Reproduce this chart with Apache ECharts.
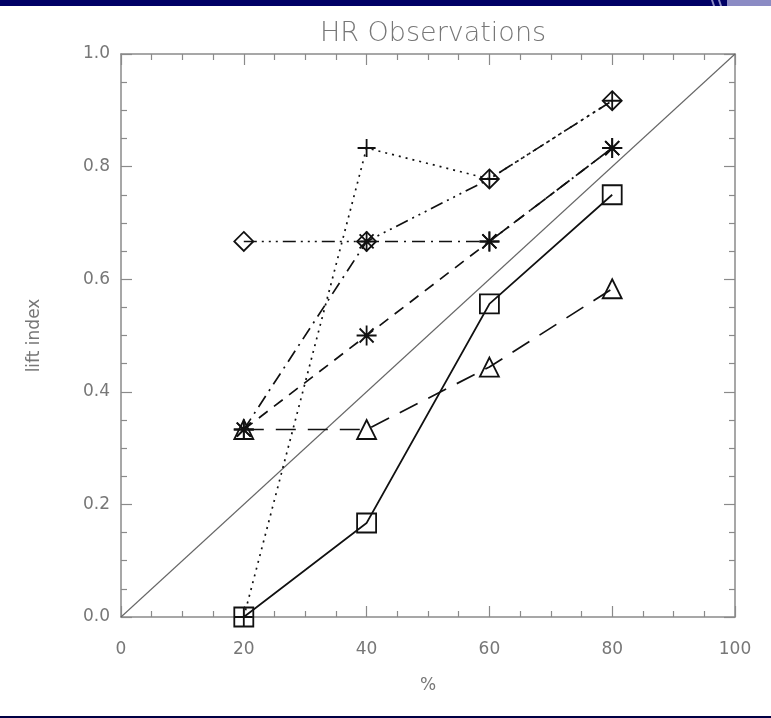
<!DOCTYPE html>
<html>
<head>
<meta charset="utf-8">
<style>
  html, body { margin: 0; padding: 0; background: #fff; }
  #chart { width: 771px; height: 718px; }
</style>
<script src="https://cdn.jsdelivr.net/npm/echarts@6/dist/echarts.min.js"></script>
</head>
<body>
<div id="chart"></div>
<script>
  // x positions (%) and lift index values
  const percents = [20, 40, 60, 80]
  const squareVals = [0.0, 0.167, 0.556, 0.75]
  const triangleVals = [0.333, 0.333, 0.444, 0.583]
  const starDashVals = [0.333, 0.5, 0.667, 0.833]
  const starDashDotVals = [0.333, 0.667, 0.667, 0.833]
  const diamondVals = [0.667, 0.667, 0.778, 0.917]
  const plusVals = [0.0, 0.833, 0.778, 0.917]
  const diagonal = [[0, 0], [100, 1]]

  const PLUS = 'path://M0,5L10,5M5,0L5,10'
  const STAR = 'path://M0,5L10,5M5,0L5,10M1.5,1.5L8.5,8.5M1.5,8.5L8.5,1.5'

  const pairs = vals => percents.map((p, i) => [p, vals[i]])

  const grey = '#8a8a8a'
  const font = 'DejaVu Sans'

  function dataLine(vals, symbol, size, dash) {
    return {
      type: 'line',
      data: pairs(vals),
      symbol,
      symbolSize: size,
      showSymbol: true,
      z: 3,
      lineStyle: { color: '#111', width: 1.7, type: dash },
      itemStyle: { color: 'none', borderColor: '#111', borderWidth: 1.8 },
      emphasis: { disabled: true },
    }
  }

  // box axes: ticks point inward on all four sides
  const tickAxis = (extra) => Object.assign({
    type: 'value',
    axisLine: { show: true, onZero: false, lineStyle: { color: grey, width: 1.5 } },
    axisTick: { show: true, inside: true, length: 11, lineStyle: { color: grey, width: 1.2 } },
    minorTick: { show: true, splitNumber: 4, length: 6, lineStyle: { color: grey, width: 1.2 } },
    splitLine: { show: false },
  }, extra)

  const chart = echarts.init(document.getElementById('chart'), null, { renderer: 'canvas' })
  chart.setOption({
    animation: false,
    backgroundColor: '#fff',
    title: {
      text: 'HR Observations',
      left: 428,
      textAlign: 'center',
      top: 15,
      textStyle: { fontFamily: font, fontWeight: 'lighter', fontSize: 27, color: '#777' },
    },
    graphic: [
      { type: 'rect', left: 0, top: 0, shape: { width: 771, height: 6 }, style: { fill: '#000066' } },
      { type: 'rect', left: 727, top: 0, shape: { width: 44, height: 6 }, style: { fill: '#8b8bc4' } },
      { type: 'polygon', shape: { points: [[711, 0], [713, 0], [715, 6], [713, 6]] }, style: { fill: '#8b8bc4' } },
      { type: 'polygon', shape: { points: [[718, 0], [720, 0], [722, 6], [720, 6]] }, style: { fill: '#8b8bc4' } },
      { type: 'rect', left: 0, top: 716, shape: { width: 771, height: 2 }, style: { fill: '#000044' } },
    ],
    grid: { left: 121, right: 36, top: 54, bottom: 101 },
    xAxis: [
      tickAxis({
        min: 0, max: 100, interval: 20, position: 'bottom',
        name: '%', nameLocation: 'middle', nameGap: 60,
        nameTextStyle: { fontFamily: font, fontSize: 17, color: '#777' },
        axisLabel: { margin: 24, fontFamily: font, fontSize: 17, color: '#777' },
      }),
      tickAxis({ min: 0, max: 100, interval: 20, position: 'top', axisLabel: { show: false } }),
    ],
    yAxis: [
      tickAxis({
        min: 0, max: 1, interval: 0.2, position: 'left',
        name: 'lift index', nameLocation: 'middle', nameGap: 78,
        nameTextStyle: { fontFamily: font, fontSize: 17, color: '#777' },
        axisLabel: { margin: 11, fontFamily: font, fontSize: 17, color: '#777', formatter: v => v.toFixed(1) },
      }),
      tickAxis({ min: 0, max: 1, interval: 0.2, position: 'right', axisLabel: { show: false } }),
    ],
    series: [
      {
        type: 'line',
        data: diagonal,
        symbol: 'none',
        lineStyle: { color: '#666', width: 1.1 },
        z: 2,
      },
      dataLine(squareVals, 'rect', 19, 'solid'),
      dataLine(triangleVals, 'triangle', 19, [20, 12]),
      dataLine(starDashVals, STAR, 20, [11, 8]),
      dataLine(starDashDotVals, STAR, 20, [13, 6, 2, 6]),
      dataLine(diamondVals, 'diamond', 19, [13, 5, 2, 5, 2, 5, 2, 5]),
      dataLine(plusVals, PLUS, 18, [2, 5]),
    ],
  })
</script>
</body>
</html>
